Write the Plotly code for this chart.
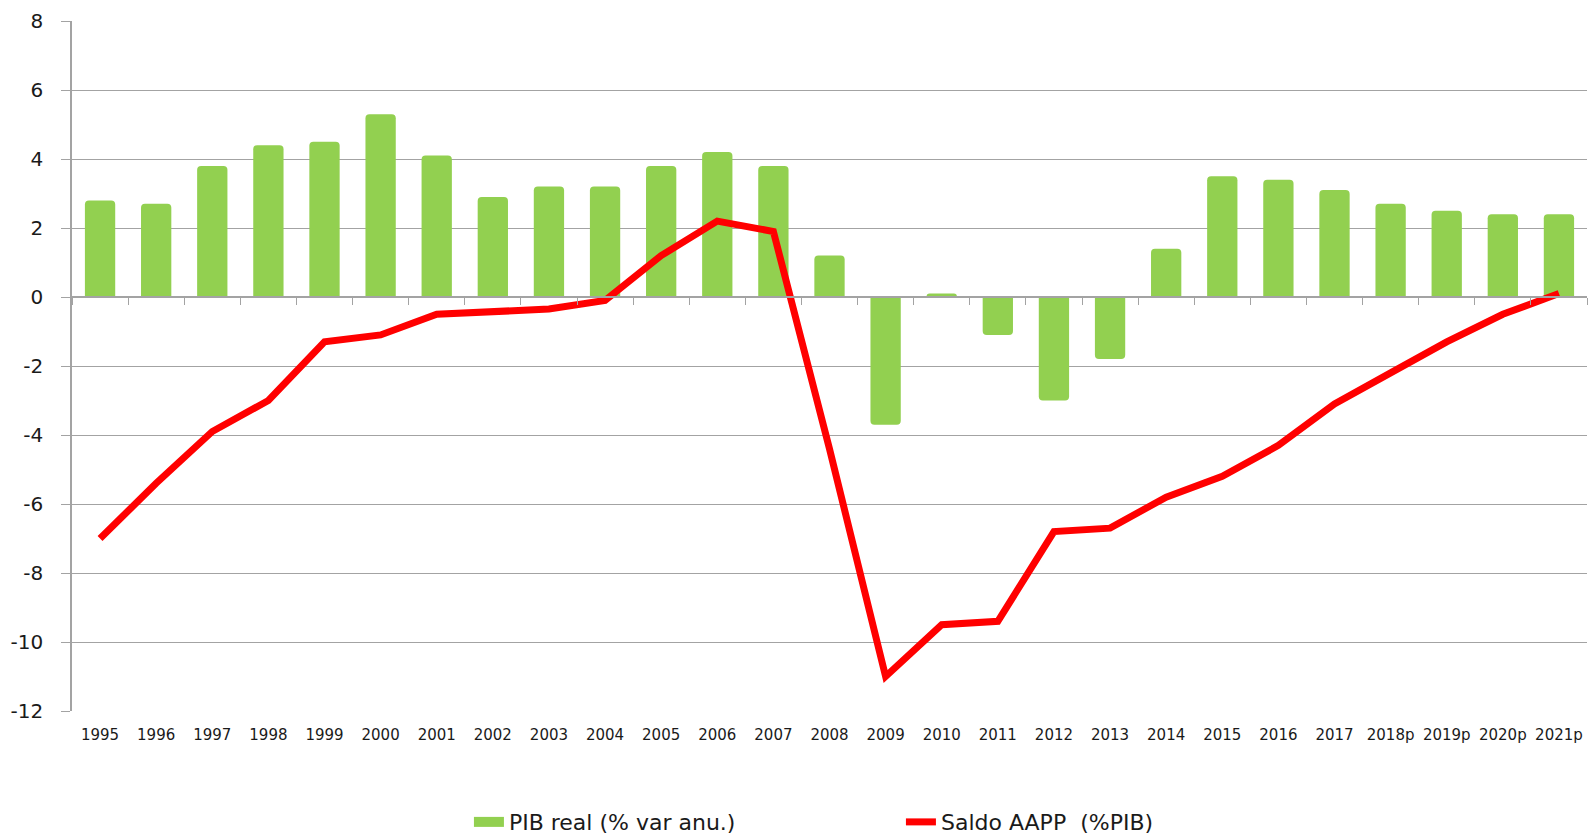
import plotly.graph_objects as go

years = ["1995", "1996", "1997", "1998", "1999", "2000", "2001", "2002", "2003",
         "2004", "2005", "2006", "2007", "2008", "2009", "2010", "2011", "2012",
         "2013", "2014", "2015", "2016", "2017", "2018p", "2019p", "2020p", "2021p"]

pib_real = [2.8, 2.7, 3.8, 4.4, 4.5, 5.3, 4.1, 2.9, 3.2, 3.2, 3.8, 4.2, 3.8,
            1.2, -3.7, 0.1, -1.1, -3.0, -1.8, 1.4, 3.5, 3.4, 3.1, 2.7, 2.5, 2.4, 2.4]

saldo_aapp = [-7.0, -5.4, -3.9, -3.0, -1.3, -1.1, -0.5, -0.4, -0.35, -0.1, 1.2, 2.2, 1.9,
              -4.4, -11.0, -9.5, -9.4, -6.8, -6.7, -5.8, -5.2, -4.3, -3.1, -2.2, -1.3, -0.5, 0.1]

y_ticks = [8, 6, 4, 2, 0, -2, -4, -6, -8, -10, -12]
y_ticktext = ["8", "6", "4", "2", "0", "-2", "-4", "-6", "-8", "-10", "-12"]

GRID = "#a3a3a3"
TXT = "#1a1a1a"
FONT = "DejaVu Sans"
GREEN = "#92D050"

fig = go.Figure()
fig.add_trace(go.Bar(
    x=years, y=pib_real, name="PIB real (% var anu.)",
    marker=dict(color=GREEN, line=dict(width=0), cornerradius=4),
    xaxis="x", yaxis="y", legendgroup="pib", showlegend=False,
))
# legend swatch for the bars (wide green patch as in the original legend)
fig.add_trace(go.Scatter(
    x=[None], y=[None], name="PIB real (% var anu.)", mode="lines",
    line=dict(color=GREEN, width=18), legendgroup="pib",
    xaxis="x", yaxis="y", hoverinfo="skip",
))
fig.add_trace(go.Scatter(
    x=years, y=saldo_aapp, name="Saldo AAPP  (%PIB)", mode="lines",
    line=dict(color="#FF0000", width=7),
    xaxis="x2", yaxis="y",
))

fig.update_layout(
    width=1589, height=837,
    margin=dict(l=72, r=2, t=21, b=126, autoexpand=False),
    paper_bgcolor="white", plot_bgcolor="white",
    bargap=0.46,
    showlegend=True,
    legend=dict(
        orientation="h", x=0.262, xanchor="left", y=-0.161, yanchor="middle",
        font=dict(family=FONT, size=22, color=TXT),
        entrywidth=387, entrywidthmode="pixels",
        bgcolor="rgba(0,0,0,0)",
    ),
    xaxis=dict(
        type="category", categoryorder="array", categoryarray=years,
        range=[-0.5, len(years) - 0.5],
        showgrid=False, zeroline=False, showline=False, ticks="",
        tickfont=dict(family=FONT, size=15, color=TXT),
        ticklabelstandoff=13, automargin=False,
    ),
    xaxis2=dict(
        type="category", categoryorder="array", categoryarray=years,
        range=[-0.5, len(years) - 0.5],
        overlaying="x", anchor="free", position=0.6, side="bottom",
        showgrid=False, zeroline=False, showline=True, linecolor=GRID, linewidth=1.5,
        ticks="outside", ticklen=7, tickcolor=GRID, tickwidth=1.3,
        tickson="boundaries", showticklabels=False, automargin=False,
    ),
    yaxis=dict(
        range=[-12, 8], tickvals=y_ticks, ticktext=y_ticktext,
        showgrid=True, gridcolor=GRID, gridwidth=1.3,
        zeroline=False, showline=True, linecolor=GRID, linewidth=1.5,
        ticks="outside", ticklen=9, tickcolor=GRID, tickwidth=1.3,
        tickfont=dict(family=FONT, size=20, color=TXT),
        ticklabelstandoff=14, automargin=False,
    ),
)

fig.write_html(
    "out.html",
    config={"displayModeBar": False},
    post_script="document.body.style.margin='0';document.body.style.overflow='hidden';",
)
